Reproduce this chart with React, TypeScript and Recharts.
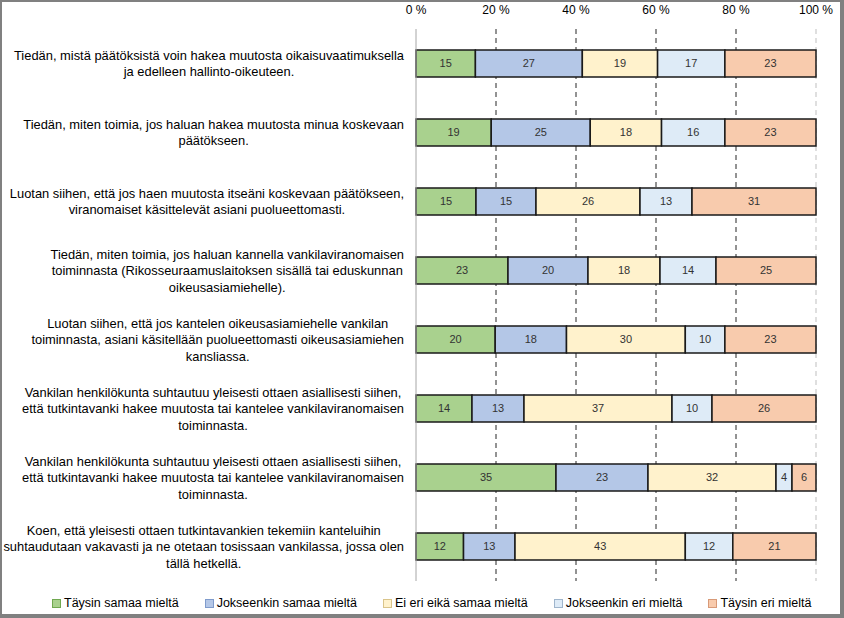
import { BarChart, Bar, XAxis, YAxis, CartesianGrid, LabelList } from "recharts";

const categories = [
  "Tiedän, mistä päätöksistä voin hakea muutosta oikaisuvaatimuksella\nja edelleen hallinto-oikeuteen.",
  "Tiedän, miten toimia, jos haluan hakea muutosta minua koskevaan\npäätökseen.",
  "Luotan siihen, että jos haen muutosta itseäni koskevaan päätökseen,\nviranomaiset käsittelevät asiani puolueettomasti.",
  "Tiedän, miten toimia, jos haluan kannella vankilaviranomaisen\ntoiminnasta (Rikosseuraamuslaitoksen sisällä tai eduskunnan\noikeusasiamiehelle).",
  "Luotan siihen, että jos kantelen oikeusasiamiehelle vankilan\ntoiminnasta, asiani käsitellään puolueettomasti oikeusasiamiehen\nkansliassa.",
  "Vankilan henkilökunta suhtautuu yleisesti ottaen asiallisesti siihen,\nettä tutkintavanki hakee muutosta tai kantelee vankilaviranomaisen\ntoiminnasta.",
  "Vankilan henkilökunta suhtautuu yleisesti ottaen asiallisesti siihen,\nettä tutkintavanki hakee muutosta tai kantelee vankilaviranomaisen\ntoiminnasta.",
  "Koen, että yleisesti ottaen tutkintavankien tekemiin kanteluihin\nsuhtaudutaan vakavasti ja ne otetaan tosissaan vankilassa, jossa olen\ntällä hetkellä.",
];

const taysinSamaa = [15, 19, 15, 23, 20, 14, 35, 12];
const jokseenkinSamaa = [27, 25, 15, 20, 18, 13, 23, 13];
const eiEri = [19, 18, 26, 18, 30, 37, 32, 43];
const jokseenkinEri = [17, 16, 13, 14, 10, 10, 4, 12];
const taysinEri = [23, 23, 31, 25, 23, 26, 6, 21];

const seriesNames = [
  "Täysin samaa mieltä",
  "Jokseenkin samaa mieltä",
  "Ei eri eikä samaa mieltä",
  "Jokseenkin eri mieltä",
  "Täysin eri mieltä",
];
const seriesValues = [taysinSamaa, jokseenkinSamaa, eiEri, jokseenkinEri, taysinEri];
const seriesColors = ["#a9d18e", "#b4c7e7", "#fff2cc", "#deebf7", "#f8cbad"];
const seriesBorders = ["#70a850", "#7f9bcc", "#d9c48a", "#9fb5cc", "#d89a78"];

const xTicks = [0, 0.2, 0.4, 0.6, 0.8, 1];
const darkGrid = [0.2, 0.4, 0.6, 0.8];
const lightGrid = [1];

const data = categories.map((name, i) => {
  const row: Record<string, any> = { name };
  seriesValues.forEach((vals, s) => {
    row["s" + s] = vals[i];
  });
  return row;
});

const FONT = "'Liberation Sans', Arial, sans-serif";
const LABEL_SIZE = 12.9;

let ctx: CanvasRenderingContext2D | null = null;
function measure(text: string) {
  if (!ctx) ctx = document.createElement("canvas").getContext("2d");
  if (!ctx) return text.length * 6;
  ctx.font = `${LABEL_SIZE}px ${FONT}`;
  return ctx.measureText(text).width;
}

function CategoryTick(props: any) {
  const { x, y, payload } = props;
  const lines = String(payload.value).split("\n");
  const w = Math.max(...lines.map(measure));
  const cx = x - w / 2;
  const lh = 16.5;
  const startY = y - ((lines.length - 1) * lh) / 2;
  return (
    <text x={cx} y={startY} textAnchor="middle" fontFamily={FONT} fontSize={LABEL_SIZE} fill="#000">
      {lines.map((l, i) => (
        <tspan key={i} x={cx} y={startY + i * lh} dy="0.35em">
          {l}
        </tspan>
      ))}
    </text>
  );
}

function PercentTick(props: any) {
  const { x, payload } = props;
  return (
    <text x={x} y={12} textAnchor="middle" fontFamily={FONT} fontSize={12} fill="#000">
      {Math.round(payload.value * 100) + " %"}
    </text>
  );
}

const gridAt = (vals: number[]) => ({ offset }: any) =>
  vals.map((v) => offset.left + v * offset.width);

export default function App() {
  return (
    <div
      style={{
        position: "absolute",
        left: 0,
        top: 0,
        width: 844,
        height: 618,
        boxSizing: "border-box",
        background: "#fff",
        borderLeft: "2px solid #808080",
        borderTop: "2px solid #808080",
        borderRight: "4px solid #808080",
        borderBottom: "4px solid #808080",
        fontFamily: FONT,
      }}
    >
      <BarChart
        width={838}
        height={590}
        data={data}
        layout="vertical"
        stackOffset="expand"
        barSize={27}
        margin={{ top: 0, right: 24, bottom: 11, left: 0 }}
      >
        <CartesianGrid
          horizontal={false}
          stroke="#262626"
          strokeDasharray="5 4"
          verticalCoordinatesGenerator={gridAt(darkGrid)}
        />
        <CartesianGrid
          horizontal={false}
          stroke="#bfbfbf"
          strokeDasharray="5 4"
          verticalCoordinatesGenerator={gridAt(lightGrid)}
        />
        <XAxis
          type="number"
          orientation="top"
          domain={[0, 1]}
          ticks={xTicks}
          height={27}
          axisLine={false}
          tickLine={false}
          tick={<PercentTick />}
          interval={0}
        />
        <YAxis
          type="category"
          dataKey="name"
          width={414}
          tickSize={0}
          tickMargin={12}
          tickLine={false}
          axisLine={{ stroke: "#a6a6a6" }}
          tick={<CategoryTick />}
          interval={0}
        />
        {seriesNames.map((n, s) => (
          <Bar
            key={n}
            dataKey={"s" + s}
            name={n}
            stackId="a"
            fill={seriesColors[s]}
            stroke="#1a1a1a"
            strokeWidth={1.5}
            isAnimationActive={false}
          >
            <LabelList
              dataKey={"s" + s}
              position="center"
              fill="#333"
              fontSize={11}
              fontFamily={FONT}
            />
          </Bar>
        ))}
      </BarChart>
      <div
        style={{
          position: "absolute",
          left: 50,
          top: 594,
          display: "flex",
          gap: 26,
          fontSize: 12.5,
          color: "#000",
          whiteSpace: "nowrap",
        }}
      >
        {seriesNames.map((n, s) => (
          <div key={n} style={{ display: "flex", alignItems: "center", gap: 3 }}>
            <span
              style={{
                display: "inline-block",
                width: 7,
                height: 7,
                background: seriesColors[s],
                border: `1px solid ${seriesBorders[s]}`,
              }}
            />
            <span>{n}</span>
          </div>
        ))}
      </div>
    </div>
  );
}
